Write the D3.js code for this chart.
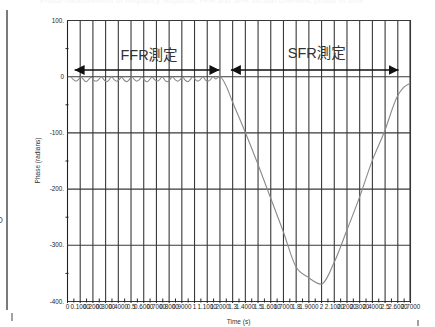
<!DOCTYPE html>
<html>
<head>
<meta charset="utf-8">
<script src="https://cdn.jsdelivr.net/npm/d3@7/dist/d3.min.js"></script>
<style>
  html, body { margin: 0; padding: 0; background: #fff; }
  svg { display: block; }
  text { font-family: "Liberation Sans", Arial, "Noto Sans CJK JP", sans-serif; }
</style>
</head>
<body>
<script>
// Phase trace: small ripple during the FFR window, then one deep swing during SFR
const ffrTime = [0.03,0.05,0.07,0.09,0.11,0.13,0.15,0.17,0.19,0.21,0.23,0.25,0.27,0.29,0.31,0.33,0.35,0.37,0.39,0.41,
  0.43,0.45,0.47,0.49,0.51,0.53,0.55,0.57,0.59,0.61,0.63,0.65,0.67,0.69,0.71,0.73,0.75,0.77,0.79,0.81,
  0.83,0.85,0.87,0.89,0.91,0.93,0.95,0.97,0.99,1.01,1.03,1.05,1.07,1.09,1.11,1.13,1.15,1.17,1.19];
const ffrPhase = [-1,-6,-9,-6,-1,-6,-10,-6,-2,-7,-9,-6,-1,-6,-10,-7,-1,-6,-9,-6,
  -2,-7,-10,-6,-1,-6,-9,-6,-1,-7,-10,-6,-2,-6,-9,-6,-1,-7,-10,-6,
  -1,-6,-9,-6,-2,-7,-10,-6,-1,-6,-9,-6,-1,-7,-9,-6,-1,-5,-2];
const sfrTime = [1.2,1.25,1.3,1.4,1.5,1.6,1.7,1.8,1.9,2.0,2.1,2.2,2.3,2.4,2.5,2.6,2.65,2.7];
const sfrPhase = [0,-16,-44,-98,-155,-215,-275,-338,-358,-370,-333,-276,-217,-152,-98,-36,-20,-13];

const timeTicks = [0,0.1,0.2,0.3,0.4,0.5,0.6,0.7,0.8,0.9,1.0,1.1,1.2,1.3,1.4,1.5,1.6,1.7,1.8,1.9,2.0,2.1,2.2,2.3,2.4,2.5,2.6,2.7];
const timeLabels = ["0","0.1000","0.2000","0.3000","0.4000","0.5","0.6000","0.7000","0.8000","0.9000","1","1.1000","1.2000",
  "1.3","1.4000","1.5","1.6000","1.7000","1.8","1.9000","2","2.1000","2.2000","2.3000","2.4000","2.5","2.6000","2.7000"];
const phaseTicks = [100,0,-100,-200,-300,-400];
const phaseLabels = ["100.","0","-100.","-200.","-300.","-400."];
const phaseMinor = [50,-50,-150,-250,-350];

const W = 435, H = 327;
const svg = d3.select("body").append("svg").attr("width", W).attr("height", H);

const x = d3.scaleLinear().domain([0, 2.7]).range([67, 410]);
const y = d3.scaleLinear().domain([-400, 100]).range([301, 20]);
const plotW = x.range()[1] - x.range()[0];
const plotH = y.range()[0] - y.range()[1];

// faint bleed of a text line along the top edge
svg.append("text").attr("x", 40).attr("y", 3).attr("font-size", 8).attr("fill", "#f3f3f3")
  .text("Phase measurement of frequency response, FFR and SFR section overview, phase vs time  ");

// page margin rule on the left and stray marks
svg.append("line").attr("x1", 7).attr("x2", 7).attr("y1", 10).attr("y2", 310)
  .attr("stroke", "#333").attr("stroke-width", 1.3);
svg.append("line").attr("x1", 12).attr("x2", 12).attr("y1", 313).attr("y2", 321)
  .attr("stroke", "#444").attr("stroke-width", 1);
svg.append("line").attr("x1", 418).attr("x2", 418).attr("y1", 320).attr("y2", 326)
  .attr("stroke", "#444").attr("stroke-width", 1);
svg.append("text").attr("x", -4).attr("y", 223).attr("font-size", 9).attr("fill", "#555").text("O");

// vertical grid
const gx = svg.append("g").attr("transform", `translate(0,${y.range()[0]})`)
  .call(d3.axisBottom(x).tickValues(timeTicks).tickSize(-plotH).tickSizeOuter(0).tickFormat(""));
gx.select(".domain").attr("stroke", "#222");
gx.selectAll(".tick line").attr("stroke", "#383838").attr("stroke-width", 1.1);

// horizontal grid
const gy = svg.append("g").attr("transform", `translate(${x.range()[0]},0)`)
  .call(d3.axisLeft(y).tickValues(phaseTicks).tickSize(-plotW).tickSizeOuter(0).tickFormat(""));
gy.select(".domain").attr("stroke", "#222");
gy.selectAll(".tick line").attr("stroke", "#383838").attr("stroke-width", 1.1);

// right border
svg.append("line").attr("x1", x.range()[1]).attr("x2", x.range()[1])
  .attr("y1", y.range()[1]).attr("y2", y.range()[0]).attr("stroke", "#383838").attr("stroke-width", 1.1);

// x tick labels with short ticks below the axis
const xl = svg.append("g").attr("transform", `translate(0,${y.range()[0]})`)
  .call(d3.axisBottom(x).tickValues(timeTicks).tickSize(2).tickPadding(2).tickSizeOuter(0)
    .tickFormat((d, i) => timeLabels[i]));
xl.select(".domain").remove();
xl.selectAll(".tick line").attr("stroke", "#222");
xl.selectAll(".tick text").attr("font-size", 6.3).attr("fill", "#222")
  .attr("font-family", "'Liberation Sans', Arial, sans-serif");

// minor ticks on the time axis
const xm = svg.append("g").attr("transform", `translate(0,${y.range()[0] + 1.5})`)
  .call(d3.axisTop(x).tickValues(d3.range(27).map(i => timeTicks[i] + 0.05)).tickSize(4).tickFormat(""));
xm.select(".domain").remove();
xm.selectAll(".tick line").attr("stroke", "#222");

// y tick labels
const yl = svg.append("g").attr("transform", `translate(${x.range()[0]},0)`)
  .call(d3.axisLeft(y).tickValues(phaseTicks).tickSize(0).tickPadding(3)
    .tickFormat((d, i) => phaseLabels[i]));
yl.select(".domain").remove();
yl.selectAll(".tick text").attr("font-size", 6.3).attr("fill", "#222")
  .attr("font-family", "'Liberation Sans', Arial, sans-serif");

// minor ticks on the phase axis
const ym = svg.append("g").attr("transform", `translate(${x.range()[0] + 1.5},0)`)
  .call(d3.axisLeft(y).tickValues(phaseMinor).tickSize(3).tickFormat(""));
ym.select(".domain").remove();
ym.selectAll(".tick line").attr("stroke", "#222");

// axis titles
svg.append("text").attr("x", (x.range()[0] + x.range()[1]) / 2).attr("y", 324)
  .attr("text-anchor", "middle").attr("font-size", 6.5).attr("fill", "#333").text("Time (s)");
svg.append("text").attr("transform", `translate(40,${(y.range()[0] + y.range()[1]) / 2}) rotate(-90)`)
  .attr("text-anchor", "middle").attr("font-size", 6.5).attr("fill", "#333").text("Phase (radians)");

// phase trace
const line = d3.line().x(d => x(d[0])).y(d => y(d[1]));
const ffr = ffrTime.map((t, i) => [t, ffrPhase[i]]);
const sfr = sfrTime.map((t, i) => [t, sfrPhase[i]]);
svg.append("path").datum(ffr.concat(sfr)).attr("d", line.curve(d3.curveMonotoneX))
  .attr("fill", "none").attr("stroke", "#8a8a8a").attr("stroke-width", 1.1);

// measurement span arrows
const defs = svg.append("defs");
["s", "e"].forEach(k => {
  defs.append("marker").attr("id", "ah-" + k).attr("viewBox", "0 0 10 10")
    .attr("refX", 10).attr("refY", 5).attr("markerWidth", 10).attr("markerHeight", 10)
    .attr("markerUnits", "userSpaceOnUse").attr("orient", "auto-start-reverse")
    .append("path").attr("d", "M0,0 L10,5 L0,10 Z").attr("fill", "#111");
});
const spans = [
  { label: "FFR測定", from: 0.06, to: 1.2, ty: 60 },
  { label: "SFR測定", from: 1.29, to: 2.61, ty: 58 }
];
const arrowY = 70;
spans.forEach(s => {
  svg.append("line").attr("x1", x(s.from)).attr("x2", x(s.to)).attr("y1", arrowY).attr("y2", arrowY)
    .attr("stroke", "#111").attr("stroke-width", 1.6)
    .attr("marker-start", "url(#ah-s)").attr("marker-end", "url(#ah-e)");
  svg.append("text").attr("x", (x(s.from) + x(s.to)) / 2 + 2).attr("y", s.ty)
    .attr("text-anchor", "middle").attr("font-size", 14.5).attr("fill", "#333")
    .attr("font-family", "'Liberation Sans', 'Noto Sans CJK JP', sans-serif")
    .text(s.label);
});
</script>
</body>
</html>
